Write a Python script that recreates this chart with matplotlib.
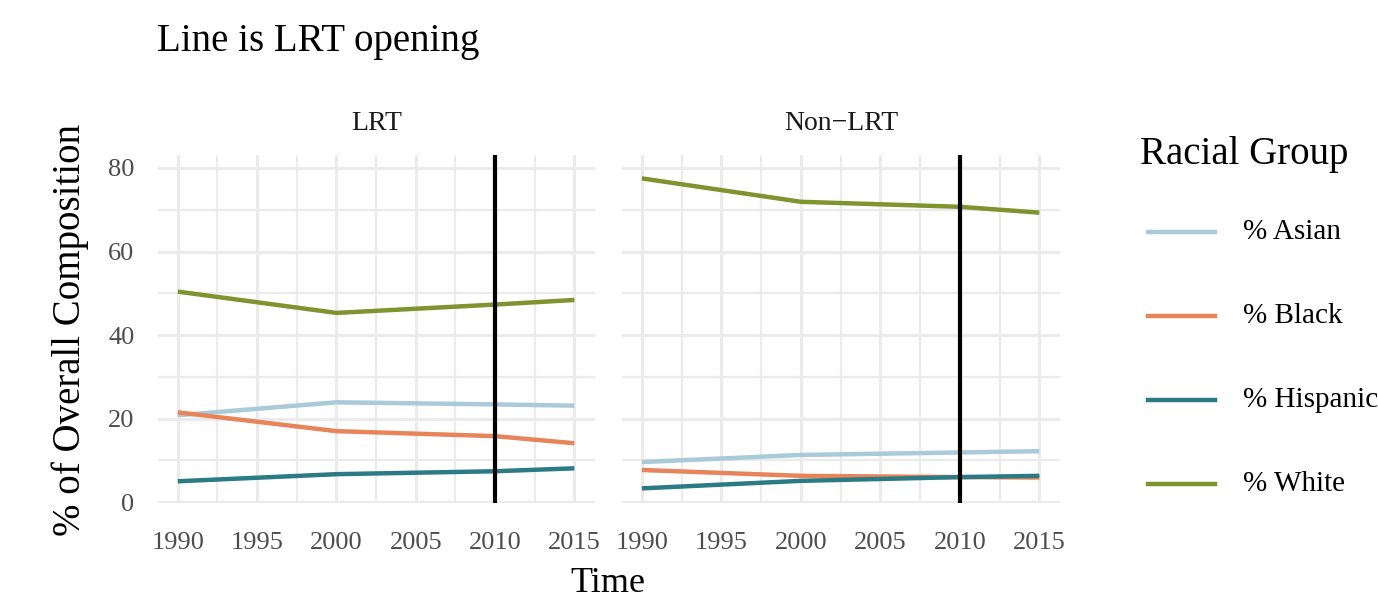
import matplotlib
matplotlib.use("Agg")
import matplotlib.pyplot as plt
from matplotlib.lines import Line2D

plt.rcParams['font.family'] = ['Liberation Serif', 'DejaVu Serif']

years = [1990, 2000, 2010, 2015]
groups = ['% Asian', '% Black', '% Hispanic', '% White']
colors = ['#a9cad8', '#e8845a', '#2a7b85', '#7f932f']

lrt_asian = [20.8, 23.9, 23.4, 23.1]
lrt_black = [21.5, 17.0, 15.8, 14.1]
lrt_hispanic = [5.0, 6.7, 7.4, 8.1]
lrt_white = [50.4, 45.3, 47.3, 48.4]

non_asian = [9.6, 11.3, 11.9, 12.2]
non_black = [7.7, 6.3, 6.0, 5.9]
non_hispanic = [3.3, 5.1, 6.0, 6.3]
non_white = [77.5, 71.9, 70.7, 69.3]

panels = ['LRT', 'Non\u2212LRT']
panel_data = [[lrt_asian, lrt_black, lrt_hispanic, lrt_white],
              [non_asian, non_black, non_hispanic, non_white]]
opening_year = 2010

W, H = 1378, 598
fig = plt.figure(figsize=(W / 100, H / 100), dpi=100)
ax1 = fig.add_axes([158 / W, 1 - 503 / H, 437 / W, 348 / H])
ax2 = fig.add_axes([622 / W, 1 - 503 / H, 438 / W, 348 / H])

for i, ax in enumerate([ax1, ax2]):
    for vals, c in zip(panel_data[i], colors):
        ax.plot(years, vals, color=c, lw=3.2, solid_capstyle='butt', zorder=3)
    ax.axvline(opening_year, color='black', lw=3, zorder=4)
    ax.set_xlim(1988.75, 2016.3)
    ax.set_ylim(-0.2, 83.1)
    ax.set_xticks([1990, 1995, 2000, 2005, 2010, 2015])
    ax.set_xticks([1992.5, 1997.5, 2002.5, 2007.5, 2012.5], minor=True)
    ax.set_yticks([0, 20, 40, 60, 80])
    ax.set_yticks([10, 30, 50, 70], minor=True)
    ax.grid(which='major', color='#ebebeb', lw=2.2, zorder=0)
    ax.grid(which='minor', color='#ebebeb', lw=1.6, zorder=0)
    for s in ax.spines.values():
        s.set_visible(False)
    ax.tick_params(which='both', length=0, labelsize=19, labelcolor='#4d4d4d')
    ax.tick_params(axis='x', pad=21)
    ax.tick_params(axis='y', pad=17)
    ax.set_title(panels[i], fontsize=20, pad=18, color='#1a1a1a')

ax2.tick_params(axis='y', labelleft=False)

fig.text(157 / W, 1 - 41 / H, 'Line is LRT opening', fontsize=28, va='center', ha='left')
fig.text(608 / W, 1 - 584 / H, 'Time', fontsize=26, va='center', ha='center')
fig.text(70 / W, 1 - 330 / H, '% of Overall Composition', fontsize=28,
         va='center', ha='center', rotation=90)

# legend
fig.text(1140 / W, 1 - 155 / H, 'Racial Group', fontsize=28, va='center', ha='left')
for k, (g, c) in enumerate(zip(groups, colors)):
    yk = 1 - (232 + 84 * k) / H
    fig.add_artist(Line2D([1148 / W, 1215 / W], [yk, yk], color=c, lw=3.2,
                          transform=fig.transFigure))
    fig.text(1243 / W, yk, g, fontsize=21, va='center', ha='left')

fig.savefig('out.png', dpi=100, facecolor='white')
